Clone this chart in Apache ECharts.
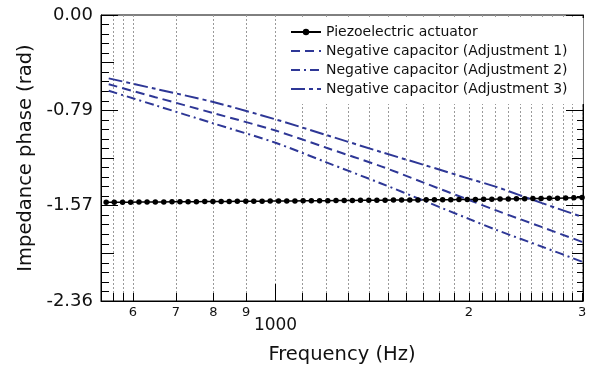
<!DOCTYPE html>
<html>
<head>
<meta charset="utf-8">
<script src="https://cdn.jsdelivr.net/npm/echarts@6/dist/echarts.min.js"></script>
<style>
html,body{margin:0;padding:0;background:#fff;}
#chart{width:595px;height:372px;}
</style>
</head>
<body>
<div id="chart"></div>
<script>
// ---- data ----
const gridFreqs = [560,580,600,700,800,900,1000,1100,1200,1300,1400,1500,1600,1700,1800,1900,2000,2100,2200,2300,2400,2500,2600,2700,2800,2900,3000];
const smallLabelFreqs = [600,700,800,900,2000,3000];
const bigLabelFreqs = [1000];

const piezoFreq = [545,561,578,595,613,631,650,670,690,710,731,753,776,799,823,847,872,899,925,953,981,1011,1041,1072,1104,1137,1171,1206,1242,1279,1317,1356,1397,1438,1481,1526,1571,1618,1666,1716,1767,1820,1874,1930,1988,2047,2108,2171,2236,2303,2371,2442,2515,2590,2668,2747,2829,2913,3000];
const piezoPhase = [-1.543,-1.543,-1.542,-1.542,-1.541,-1.541,-1.540,-1.540,-1.539,-1.539,-1.538,-1.538,-1.537,-1.537,-1.536,-1.536,-1.535,-1.535,-1.534,-1.534,-1.533,-1.533,-1.532,-1.532,-1.531,-1.531,-1.530,-1.530,-1.529,-1.529,-1.528,-1.527,-1.527,-1.526,-1.526,-1.525,-1.525,-1.524,-1.524,-1.523,-1.523,-1.522,-1.522,-1.521,-1.520,-1.519,-1.518,-1.517,-1.516,-1.515,-1.514,-1.513,-1.512,-1.511,-1.510,-1.509,-1.507,-1.505,-1.503];

const adjFreq = [550,650,800,1000,1200,1460,1700,2000,2200,2600,3000];
const adj1Phase = [-0.571,-0.677,-0.808,-0.952,-1.094,-1.247,-1.381,-1.524,-1.608,-1.748,-1.869];
const adj2Phase = [-0.624,-0.744,-0.893,-1.053,-1.214,-1.388,-1.529,-1.680,-1.768,-1.909,-2.032];
const adj3Phase = [-0.522,-0.608,-0.717,-0.860,-0.989,-1.129,-1.234,-1.348,-1.414,-1.550,-1.663];

const seriesNames = ['Piezoelectric actuator','Negative capacitor (Adjustment 1)','Negative capacitor (Adjustment 2)','Negative capacitor (Adjustment 3)'];

// ---- chart ----
const FONT = 'DejaVu Sans, Verdana, sans-serif';
const TXT = '#111';
const BLUE = '#2e3796';
const pairs = (xs, ys) => xs.map((x, i) => [x, ys[i]]);
const X_MIN = 535, X_MAX = 3010;
const Y_MIN = -3 * Math.PI / 4, Y_MAX = 0, Y_INT = Math.PI / 4;

const chart = echarts.init(document.getElementById('chart'), null, {renderer: 'canvas'});

const baseX = {
  type: 'log', logBase: 10, min: X_MIN, max: X_MAX, gridIndex: 0, position: 'bottom'
};
const baseY = {
  type: 'value', min: Y_MIN, max: Y_MAX, gridIndex: 0
};

chart.setOption({
  animation: false,
  backgroundColor: '#fff',
  textStyle: {fontFamily: FONT},
  grid: {left: 101, right: 12, top: 15, bottom: 71, show: true, borderColor: '#000', borderWidth: 1, backgroundColor: 'transparent'},
  legend: {
    orient: 'vertical', left: 284, top: 18,
    backgroundColor: '#fff',
    padding: [7, 16, 8, 6],
    itemWidth: 30, itemHeight: 8, itemGap: 5,
    textStyle: {fontSize: 14, color: TXT, fontFamily: FONT, height: 14, lineHeight: 14},
    data: [
      {name: seriesNames[0]},
      {name: seriesNames[1], itemStyle: {opacity: 0}},
      {name: seriesNames[2], itemStyle: {opacity: 0}},
      {name: seriesNames[3], itemStyle: {opacity: 0}}
    ]
  },
  xAxis: [
    Object.assign({}, baseX, {
      name: 'Frequency (Hz)', nameLocation: 'middle', nameGap: 44,
      nameTextStyle: {fontSize: 19.5, color: TXT, fontFamily: FONT},
      axisLine: {show: true, onZero: false, lineStyle: {color: '#000', width: 1}},
      axisTick: {show: true, inside: true, length: 8, customValues: gridFreqs, lineStyle: {color: '#000', width: 1}},
      axisLabel: {show: true, customValues: smallLabelFreqs, margin: 5, fontSize: 13, color: TXT, fontFamily: FONT,
        formatter: v => String(Math.round(v / Math.pow(10, Math.floor(Math.log10(v) + 1e-9))))},
      splitLine: {show: true, lineStyle: {color: '#9a9a9a', width: 1, type: [2, 2]}},
      minorTick: {show: false}
    }),
    Object.assign({}, baseX, {
      axisLine: {show: false, onZero: false},
      axisTick: {show: true, inside: true, length: 17, customValues: bigLabelFreqs, lineStyle: {color: '#000', width: 1}},
      axisLabel: {show: true, customValues: bigLabelFreqs, margin: 16, fontSize: 17, color: TXT, fontFamily: FONT,
        formatter: v => String(Math.round(v))},
      splitLine: {show: false}
    })
  ],
  yAxis: [
    Object.assign({}, baseY, {
      position: 'left', interval: Y_INT,
      name: 'Impedance phase (rad)', nameLocation: 'middle', nameGap: 63,
      nameTextStyle: {fontSize: 19.5, color: TXT, fontFamily: FONT},
      axisLine: {show: true, onZero: false, lineStyle: {color: '#000', width: 1}},
      axisTick: {show: true, inside: true, length: 17, lineStyle: {color: '#000', width: 1}},
      minorTick: {show: true, splitNumber: 10, length: 8, lineStyle: {color: '#000', width: 1}},
      axisLabel: {show: true, margin: 8, fontSize: 18, color: TXT, fontFamily: FONT, formatter: v => v.toFixed(2)},
      splitLine: {show: false}
    }),
    Object.assign({}, baseY, {
      position: 'left', interval: Y_INT / 2,
      axisLine: {show: false, onZero: false},
      axisTick: {show: true, inside: true, length: 13, lineStyle: {color: '#000', width: 1}},
      axisLabel: {show: false},
      splitLine: {show: false}
    }),
    Object.assign({}, baseY, {
      position: 'right', interval: Y_INT,
      axisLine: {show: true, onZero: false, lineStyle: {color: '#000', width: 1}},
      axisTick: {show: true, inside: true, length: 17, lineStyle: {color: '#000', width: 1}},
      minorTick: {show: true, splitNumber: 10, length: 6, lineStyle: {color: '#000', width: 1}},
      axisLabel: {show: false},
      splitLine: {show: false}
    }),
    Object.assign({}, baseY, {
      position: 'right', interval: Y_INT / 2,
      axisLine: {show: false, onZero: false},
      axisTick: {show: true, inside: true, length: 11, lineStyle: {color: '#000', width: 1}},
      axisLabel: {show: false},
      splitLine: {show: false}
    })
  ],
  series: [
    {
      name: seriesNames[0], type: 'line', xAxisIndex: 0, yAxisIndex: 0,
      data: pairs(piezoFreq, piezoPhase),
      symbol: 'circle', symbolSize: 5.5, showSymbol: true,
      itemStyle: {color: '#000'},
      lineStyle: {color: '#000', width: 1.5},
      z: 3
    },
    {
      name: seriesNames[1], type: 'line', xAxisIndex: 0, yAxisIndex: 0,
      data: pairs(adjFreq, adj1Phase), symbol: 'none', smooth: 0.3,
      itemStyle: {color: BLUE},
      lineStyle: {color: BLUE, width: 2, type: [9, 5]}
    },
    {
      name: seriesNames[2], type: 'line', xAxisIndex: 0, yAxisIndex: 0,
      data: pairs(adjFreq, adj2Phase), symbol: 'none', smooth: 0.3,
      itemStyle: {color: BLUE},
      lineStyle: {color: BLUE, width: 2, type: [9, 4, 2, 4]}
    },
    {
      name: seriesNames[3], type: 'line', xAxisIndex: 0, yAxisIndex: 0,
      data: pairs(adjFreq, adj3Phase), symbol: 'none', smooth: 0.3,
      itemStyle: {color: BLUE},
      lineStyle: {color: BLUE, width: 2, type: [14, 4, 4, 4]}
    }
  ]
});
</script>
</body>
</html>
